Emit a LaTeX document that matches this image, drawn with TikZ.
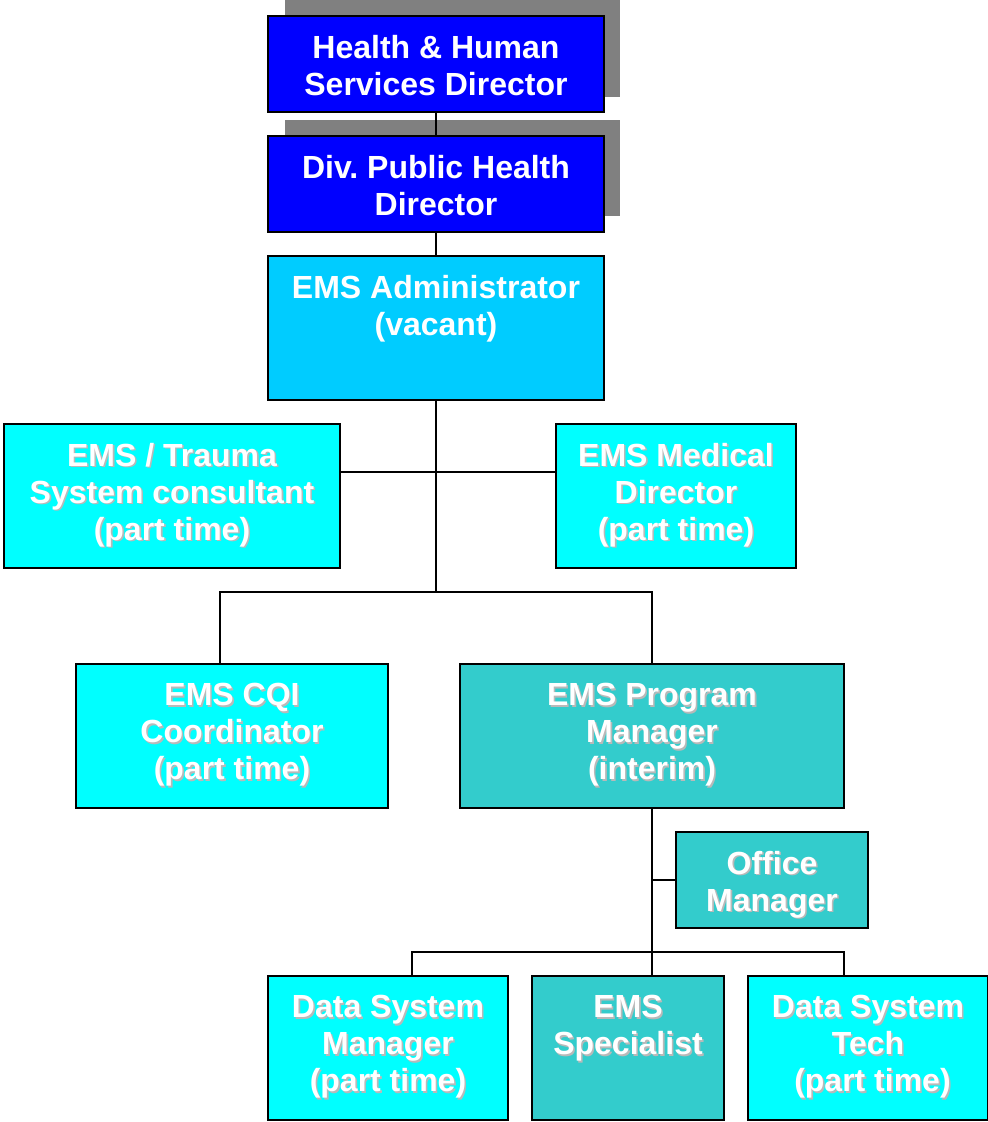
\documentclass[tikz,border=0pt]{standalone}
\usepackage{fontspec}
\setmainfont{Liberation Sans}
\usetikzlibrary{calc}
\frenchspacing
\definecolor{hblue}{RGB}{0,0,255}
\definecolor{admin}{RGB}{0,204,255}
\definecolor{cyanbox}{RGB}{0,255,255}
\definecolor{tealbox}{RGB}{51,204,204}
\definecolor{shadowgray}{RGB}{128,128,128}
\definecolor{txtshadow}{RGB}{185,185,185}
\tikzset{
  box/.style={draw=black, line width=2pt, inner sep=0pt},
  txt/.style={text=white, font=\fontsize{32}{37}\selectfont\bfseries, align=center, anchor=north, inner sep=0pt},
  tshadow/.style={txt, text=txtshadow},
  link/.style={draw=black, line width=2pt},
}
% #1 position, #2 text  (text with light shadow)
\newcommand\shtext[2]{%
  \node[tshadow] at ($(#1)+(1.6,1.6)$) {#2};
  \node[txt] at (#1) {#2};}
\begin{document}
\begin{tikzpicture}[x=1pt,y=-1pt]
\useasboundingbox (0,0) rectangle (988,1122);
% gray drop shadows of top boxes
\fill[shadowgray] (285,0) rectangle (620,97);
\fill[shadowgray] (285,120) rectangle (620,216);
% boxes
\node[box, fill=hblue, minimum width=336pt, minimum height=96pt] (hhs) at (436,64) {};
\node[box, fill=hblue, minimum width=336pt, minimum height=96pt] (dph) at (436,184) {};
\node[box, fill=admin, minimum width=336pt, minimum height=144pt] (adm) at (436,328) {};
\node[box, fill=cyanbox, minimum width=336pt, minimum height=144pt] (trauma) at (172,496) {};
\node[box, fill=cyanbox, minimum width=240pt, minimum height=144pt] (med) at (676,496) {};
\node[box, fill=cyanbox, minimum width=312pt, minimum height=144pt] (cqi) at (232,736) {};
\node[box, fill=tealbox, minimum width=384pt, minimum height=144pt] (pm) at (652,736) {};
\node[box, fill=tealbox, minimum width=192pt, minimum height=96pt] (office) at (772,880) {};
\node[box, fill=cyanbox, minimum width=240pt, minimum height=144pt] (dsm) at (388,1048) {};
\node[box, fill=tealbox, minimum width=192pt, minimum height=144pt] (spec) at (628,1048) {};
\node[box, fill=cyanbox, minimum width=240pt, minimum height=144pt] (dst) at (868,1048) {};
% junction coordinates
\coordinate (j1) at (436,472);
\coordinate (j2) at (436,592);
\coordinate (j3) at (652,880);
\coordinate (j4) at (652,952);
\coordinate (cqitop) at ($(cqi.north)+(-12,0)$);
\coordinate (dsmtop) at ($(dsm.north)+(24,0)$);
\coordinate (dsttop) at ($(dst.north)+(-24,0)$);
% connectors
\draw[link] (hhs.south) -- (dph.north);
\draw[link] (dph.south) -- (adm.north);
\draw[link] (adm.south) -- (j2);
\draw[link] (trauma.east |- j1) -- (med.west |- j1);
\draw[link] (cqitop) |- (j2) -| (pm.north);
\draw[link] (pm.south) -- (spec.north -| pm.south);
\draw[link] (j3) -- (office.west |- j3);
\draw[link] (dsmtop) |- (j4) -| (dsttop);
% texts
\node[txt] at (436,35) {Health \& Human\\Services Director};
\node[txt] at (436,155) {Div. Public Health\\Director};
\node[txt] at (436,275) {EMS Administrator\\(vacant)};
\shtext{172,443}{EMS / Trauma\\System consultant\\(part time)}
\shtext{676,443}{EMS Medical\\Director\\(part time)}
\shtext{232,683}{EMS CQI\\Coordinator\\(part time)}
\shtext{652,683}{EMS Program\\Manager\\(interim)}
\shtext{772,851}{Office\\Manager}
\shtext{388,995}{Data System\\Manager\\(part time)}
\shtext{628,995}{EMS\\Specialist}
\shtext{868,995}{Data System\\Tech\\\hspace*{9pt}(part time)}
\end{tikzpicture}
\end{document}
